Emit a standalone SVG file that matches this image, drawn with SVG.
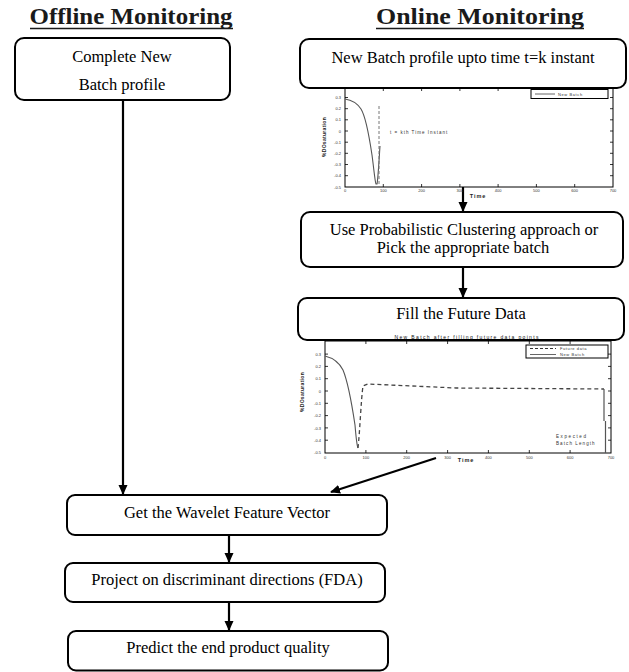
<svg xmlns="http://www.w3.org/2000/svg" width="629" height="672" viewBox="0 0 629 672">
<defs>
<style>
.bg{fill:#fff}
.box{fill:#fff;stroke:#000;stroke-width:2}
.t{font-family:"Liberation Serif","Times New Roman",serif;font-size:16.5px;fill:#000;text-anchor:middle}
.h{font-family:"Liberation Serif","Times New Roman",serif;font-size:23px;font-weight:bold;fill:#1a1a1a;text-anchor:middle}
.ul{stroke:#1a1a1a;stroke-width:1.6}
.con{stroke:#000;stroke-width:2.2;fill:none;marker-end:url(#ah)}
.ax{fill:none;stroke:#000;stroke-width:1}
.tk{stroke:#000;stroke-width:0.8}
.tl{font-family:"Liberation Sans",Arial,sans-serif;font-size:4px;fill:#333}
.tly{font-family:"Liberation Sans",Arial,sans-serif;font-size:4px;fill:#333;text-anchor:end}
.tlx{font-family:"Liberation Sans",Arial,sans-serif;font-size:4px;fill:#333;text-anchor:middle}
.lab{font-family:"Liberation Sans",Arial,sans-serif;font-size:5.5px;font-weight:bold;fill:#222;text-anchor:middle;letter-spacing:1px}
.sm{font-family:"Liberation Sans",Arial,sans-serif;font-size:4.5px;fill:#333;letter-spacing:1px}
.cv{fill:none;stroke:#555;stroke-width:1.1}
.dcv{fill:none;stroke:#444;stroke-width:1.3;stroke-dasharray:4,3}
</style>
<marker id="ah" markerWidth="10" markerHeight="10" refX="9" refY="5" orient="auto" markerUnits="userSpaceOnUse">
<path d="M0,0.5 L10,5 L0,9.5 z" fill="#000"/>
</marker>
</defs>
<rect class="bg" x="0" y="0" width="629" height="672"/>

<g id="heading-offline">
<text class="h" x="131" y="24" textLength="203" lengthAdjust="spacingAndGlyphs">Offline Monitoring</text>
<line class="ul" x1="30" y1="28.5" x2="233" y2="28.5"/>
</g>
<g id="heading-online">
<text class="h" x="480" y="24" textLength="208" lengthAdjust="spacingAndGlyphs">Online Monitoring</text>
<line class="ul" x1="376" y1="28.5" x2="584" y2="28.5"/>
</g>

<g id="connectors">
<line class="con" x1="123" y1="100" x2="123" y2="494"/>
<line class="con" x1="463" y1="187" x2="463" y2="211"/>
<line class="con" x1="463" y1="267" x2="463" y2="297"/>
<line class="con" x1="436" y1="458" x2="331" y2="492"/>
<line class="con" x1="229" y1="535" x2="229" y2="562"/>
<line class="con" x1="229" y1="602" x2="229" y2="630"/>
</g>

<g id="node-complete-batch">
<rect class="box" x="15" y="38" width="215" height="62" rx="9"/>
<text class="t" x="122" y="62">Complete New</text>
<text class="t" x="122" y="90">Batch profile</text>
</g>

<g id="plot-partial-batch">
<rect class="ax" x="345" y="87" width="268" height="100"/>
<g class="tk">
<line x1="383.3" y1="187" x2="383.3" y2="184"/><line x1="421.6" y1="187" x2="421.6" y2="184"/><line x1="459.9" y1="187" x2="459.9" y2="184"/><line x1="498.1" y1="187" x2="498.1" y2="184"/><line x1="536.4" y1="187" x2="536.4" y2="184"/><line x1="574.7" y1="187" x2="574.7" y2="184"/>
<line x1="383.3" y1="88" x2="383.3" y2="91"/><line x1="421.6" y1="88" x2="421.6" y2="91"/><line x1="459.9" y1="88" x2="459.9" y2="91"/><line x1="498.1" y1="88" x2="498.1" y2="91"/><line x1="536.4" y1="88" x2="536.4" y2="91"/><line x1="574.7" y1="88" x2="574.7" y2="91"/>
<line x1="345" y1="97.5" x2="348" y2="97.5"/><line x1="345" y1="108.7" x2="348" y2="108.7"/><line x1="345" y1="119.8" x2="348" y2="119.8"/><line x1="345" y1="131" x2="348" y2="131"/><line x1="345" y1="142.2" x2="348" y2="142.2"/><line x1="345" y1="153.3" x2="348" y2="153.3"/><line x1="345" y1="164.5" x2="348" y2="164.5"/><line x1="345" y1="175.7" x2="348" y2="175.7"/>
<line x1="613" y1="97.5" x2="610" y2="97.5"/><line x1="613" y1="108.7" x2="610" y2="108.7"/><line x1="613" y1="119.8" x2="610" y2="119.8"/><line x1="613" y1="131" x2="610" y2="131"/><line x1="613" y1="142.2" x2="610" y2="142.2"/><line x1="613" y1="153.3" x2="610" y2="153.3"/><line x1="613" y1="164.5" x2="610" y2="164.5"/><line x1="613" y1="175.7" x2="610" y2="175.7"/>
</g>
<text class="tly" x="341" y="99">0.3</text><text class="tly" x="341" y="110">0.2</text><text class="tly" x="341" y="121">0.1</text><text class="tly" x="341" y="132.5">0</text><text class="tly" x="341" y="143.5">-0.1</text><text class="tly" x="341" y="155">-0.2</text><text class="tly" x="341" y="166">-0.3</text><text class="tly" x="341" y="177">-0.4</text><text class="tly" x="341" y="188.5">-0.5</text>
<text class="tlx" x="345" y="192">0</text><text class="tlx" x="383.3" y="192">100</text><text class="tlx" x="421.6" y="192">200</text><text class="tlx" x="459.9" y="192">300</text><text class="tlx" x="498.1" y="192">400</text><text class="tlx" x="536.4" y="192">500</text><text class="tlx" x="574.7" y="192">600</text><text class="tlx" x="613" y="192">700</text>
<text class="lab" x="478" y="198">Time</text>
<text class="lab" x="0" y="0" transform="translate(326,137) rotate(-90)" style="font-size:5px;letter-spacing:0.3px">%DOsaturation</text>
<path class="cv" d="M345,99 C352,100 357,103 361,109 C366,117 369,135 372,155 C374,170 375,182 376,184 L377,184 C378,180 379,160 380,146"/>
<line x1="379" y1="106" x2="379" y2="187" stroke="#777" stroke-width="1" stroke-dasharray="3,2"/>
<text class="sm" x="390" y="134">t = kth Time Instant</text>
<rect x="531" y="89.5" width="77" height="9" fill="#fff" stroke="#000" stroke-width="1"/>
<line x1="535" y1="94" x2="555" y2="94" stroke="#555" stroke-width="0.9"/>
<text class="tl" x="558" y="95.5" style="letter-spacing:0.6px">New Batch</text>
</g>

<g id="node-partial-batch">
<rect class="box" x="300" y="39" width="326" height="49" rx="9"/>
<text class="t" x="463" y="63">New Batch profile upto time t=k instant</text>
</g>

<g id="node-clustering">
<rect class="box" x="301" y="212" width="322" height="55" rx="9"/>
<text class="t" x="464" y="235">Use Probabilistic  Clustering  approach  or</text>
<text class="t" x="463" y="253">Pick the appropriate batch</text>
</g>

<g id="plot-filled-batch">
<rect class="ax" x="325" y="341" width="286" height="112"/>
<g class="tk">
<line x1="365.9" y1="453" x2="365.9" y2="450"/><line x1="406.7" y1="453" x2="406.7" y2="450"/><line x1="447.6" y1="453" x2="447.6" y2="450"/><line x1="488.4" y1="453" x2="488.4" y2="450"/><line x1="529.3" y1="453" x2="529.3" y2="450"/><line x1="570.1" y1="453" x2="570.1" y2="450"/>
<line x1="365.9" y1="341" x2="365.9" y2="344"/><line x1="406.7" y1="341" x2="406.7" y2="344"/><line x1="447.6" y1="341" x2="447.6" y2="344"/><line x1="488.4" y1="341" x2="488.4" y2="344"/><line x1="529.3" y1="341" x2="529.3" y2="344"/><line x1="570.1" y1="341" x2="570.1" y2="344"/>
<line x1="325" y1="354.1" x2="328" y2="354.1"/><line x1="325" y1="366.4" x2="328" y2="366.4"/><line x1="325" y1="378.7" x2="328" y2="378.7"/><line x1="325" y1="391" x2="328" y2="391"/><line x1="325" y1="403.3" x2="328" y2="403.3"/><line x1="325" y1="415.6" x2="328" y2="415.6"/><line x1="325" y1="427.9" x2="328" y2="427.9"/><line x1="325" y1="440.2" x2="328" y2="440.2"/>
<line x1="611" y1="354.1" x2="608" y2="354.1"/><line x1="611" y1="366.4" x2="608" y2="366.4"/><line x1="611" y1="378.7" x2="608" y2="378.7"/><line x1="611" y1="391" x2="608" y2="391"/><line x1="611" y1="403.3" x2="608" y2="403.3"/><line x1="611" y1="415.6" x2="608" y2="415.6"/><line x1="611" y1="427.9" x2="608" y2="427.9"/><line x1="611" y1="440.2" x2="608" y2="440.2"/>
</g>
<text class="tly" x="321" y="355.5">0.3</text><text class="tly" x="321" y="368">0.2</text><text class="tly" x="321" y="380">0.1</text><text class="tly" x="321" y="392.5">0</text><text class="tly" x="321" y="405">-0.1</text><text class="tly" x="321" y="417">-0.2</text><text class="tly" x="321" y="429.5">-0.3</text><text class="tly" x="321" y="442">-0.4</text><text class="tly" x="321" y="454">-0.5</text>
<text class="tlx" x="325" y="458.5">0</text><text class="tlx" x="365.9" y="458.5">100</text><text class="tlx" x="406.7" y="458.5">200</text><text class="tlx" x="447.6" y="458.5">300</text><text class="tlx" x="488.4" y="458.5">400</text><text class="tlx" x="529.3" y="458.5">500</text><text class="tlx" x="570.1" y="458.5">600</text><text class="tlx" x="611" y="458.5">700</text>
<text class="lab" x="466" y="462">Time</text>
<text class="lab" x="0" y="0" transform="translate(304,392) rotate(-90)" style="font-size:5px;letter-spacing:0.3px">%DOsaturation</text>
<path class="cv" d="M325,356 C333,358 339,362 343,370 C348,382 352,405 355,425 C356,437 357,446 358,448"/>
<path class="dcv" d="M358,448 C360,430 361,400 363,386 L368,384 L456,388 L604,389"/>
<path d="M604,389 L604,421 M605.5,421 L605.5,453" fill="none" stroke="#555" stroke-width="1.2"/>
<text class="sm" x="556" y="437.5" style="letter-spacing:1.6px">Expected</text>
<text class="sm" x="556" y="444.5" style="letter-spacing:1.1px">Batch Length</text>
<rect x="526" y="345" width="82" height="13" fill="#fff" stroke="#000" stroke-width="1"/>
<line x1="530" y1="348.5" x2="556" y2="348.5" stroke="#333" stroke-width="1" stroke-dasharray="3,2"/>
<line x1="530" y1="354.5" x2="556" y2="354.5" stroke="#555" stroke-width="0.9"/>
<text class="tl" x="560" y="350" style="letter-spacing:0.6px">Future data</text>
<text class="tl" x="560" y="356" style="letter-spacing:0.6px">New Batch</text>
</g>

<g id="node-fill-future">
<rect class="box" x="298" y="298" width="326" height="42" rx="9"/>
<text class="t" x="461" y="319">Fill the Future Data</text>
<text class="lab" x="467" y="338.5" textLength="145" style="font-size:5px;font-weight:normal;fill:#111">New Batch after filling future data points</text>
</g>

<g id="node-wavelet">
<rect class="box" x="67" y="495" width="320" height="40" rx="8"/>
<text class="t" x="227" y="518">Get the Wavelet Feature Vector</text>
</g>

<g id="node-fda">
<rect class="box" x="65" y="563" width="320" height="39" rx="8"/>
<text class="t" x="227" y="585">Project on discriminant  directions (FDA)</text>
</g>

<g id="node-predict">
<rect class="box" x="68" y="631" width="320" height="39.5" rx="8"/>
<text class="t" x="228" y="653">Predict the end product quality</text>
</g>
</svg>
